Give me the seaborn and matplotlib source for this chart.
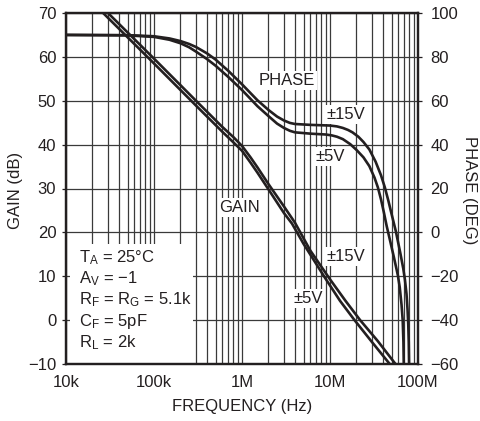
import numpy as np
import pandas as pd
import matplotlib
matplotlib.use('Agg')
import matplotlib.pyplot as plt
import matplotlib.ticker as mticker
from matplotlib.patches import Rectangle
import seaborn as sns

# gain curves (Hz, dB)
freq_gain_15 = [10e3, 30e3, 100e3, 300e3, 600e3, 800e3, 1e6, 1.25e6, 1.5e6, 2e6, 3e6, 4e6, 6e6,
                10e6, 15e6, 22e6, 35e6, 58e6]
gain_15 = [79.5, 70.0, 59.6, 50.0, 44.0, 41.7, 39.7, 37.1, 34.8, 31.0, 25.9, 22.2, 15.8,
           9.3, 4.4, 0.0, -4.8, -10.5]
freq_gain_5 = [10e3, 30e3, 100e3, 300e3, 600e3, 800e3, 1e6, 1.25e6, 1.5e6, 2e6, 3e6, 3.7e6, 5e6,
               8.8e6, 13e6, 19e6, 30e6, 50e6]
gain_5 = [78.4, 68.9, 58.5, 48.9, 42.9, 40.5, 38.6, 35.9, 33.6, 29.8, 24.4, 22.0, 17.4,
          9.6, 4.4, 0.0, -5.0, -10.5]

# phase curves (Hz, deg)
freq_ph_15 = [10e3, 50e3, 100e3, 150e3, 200e3, 250e3, 300e3, 400e3, 500e3, 700e3, 1e6, 1.5e6,
              2e6, 2.5e6, 3e6, 3.5e6, 4e6, 6e6, 10e6, 12e6, 14e6, 16e6, 18e6, 21e6, 24e6, 28e6,
              33e6, 38e6, 42e6, 46e6, 50e6, 56e6, 63e6, 68e6, 71e6, 74e6, 76e6, 77.5e6, 78.5e6, 79.3e6]
phase_15 = [90, 89.9, 89.4, 88.4, 87.2, 85.9, 84.5, 81.6, 78.8, 73.6, 67.5, 60.2,
            55.8, 52.8, 51.0, 49.9, 49.4, 49.0, 48.7, 48.3, 47.6, 46.7, 45.6, 43.6, 41.2, 37.8,
            32.2, 26, 20.5, 14.5, 8.5, 0.5, -9.5, -16.5, -21.5, -28, -35, -42, -50, -62]
freq_ph_5 = [10e3, 50e3, 100e3, 150e3, 200e3, 250e3, 300e3, 400e3, 500e3, 700e3, 1e6, 1.5e6,
             2e6, 2.5e6, 3e6, 3.5e6, 4e6, 6e6, 9e6, 10.5e6, 12e6, 14e6, 17e6, 20e6, 24e6, 28e6,
             32e6, 35e6, 38e6, 41e6, 44e6, 48e6, 53e6, 59e6, 62e6, 65e6, 67e6, 68.3e6, 69e6]
phase_5 = [90, 89.8, 89.1, 87.8, 86.2, 84.4, 82.4, 79.0, 76.0, 70.8, 64.9, 57.5,
           53.0, 49.6, 47.6, 46.3, 45.6, 45.0, 44.6, 44.2, 43.6, 42.5, 40.2, 37.6, 34.2, 30.2,
           25, 20.5, 15, 9, 3, -3.5, -11, -19.5, -25, -33, -40, -50, -62]

x_ticks = [1e4, 1e5, 1e6, 1e7, 1e8]
x_labels = ['10k', '100k', '1M', '10M', '100M']
gain_ticks = list(range(-10, 71, 10))
phase_ticks = list(range(-60, 101, 20))

gain_df = pd.DataFrame({
    'freq': freq_gain_15 + freq_gain_5,
    'gain': gain_15 + gain_5,
    'supply': ['±15V'] * len(gain_15) + ['±5V'] * len(gain_5),
})
phase_df = pd.DataFrame({
    'freq': freq_ph_15 + freq_ph_5,
    'phase': phase_15 + phase_5,
    'supply': ['±15V'] * len(phase_15) + ['±5V'] * len(phase_5),
})

sns.set_style('white')
plt.rcParams['font.family'] = ['Liberation Sans Narrow', 'Liberation Sans', 'DejaVu Sans']
plt.rcParams['mathtext.default'] = 'regular'
plt.rcParams['axes.unicode_minus'] = True

ink = '#231f20'
fig = plt.figure(figsize=(4.8, 4.21), dpi=100)
ax = fig.add_axes([66 / 480, 57 / 421, 352 / 480, 351 / 421])
ax2 = ax.twinx()

pal = {'±15V': ink, '±5V': ink}
sns.lineplot(data=gain_df, x='freq', y='gain', hue='supply', palette=pal,
             lw=1.9, legend=False, ax=ax, sort=False)
sns.lineplot(data=phase_df, x='freq', y='phase', hue='supply', palette=pal,
             lw=1.9, legend=False, ax=ax2, sort=False)

ax.set_xscale('log')
ax.set_xlim(1e4, 1e8)
ax.set_ylim(-10, 70)
ax2.set_ylim(-60, 100)

ax.set_xticks(x_ticks)
ax.set_xticklabels(x_labels)
ax.xaxis.set_minor_locator(mticker.LogLocator(base=10, subs=np.arange(2, 10)))
ax.xaxis.set_minor_formatter(mticker.NullFormatter())
ax.set_yticks(gain_ticks)
ax.set_yticklabels([str(v).replace('-', '\u2212') for v in gain_ticks])
ax2.set_yticks(phase_ticks)
ax2.set_yticklabels([str(v).replace('-', '\u2212') for v in phase_ticks])

ax.set_axisbelow(True)
ax.grid(True, which='both', axis='x', color='#3a3a3a', lw=0.9)
ax.grid(True, which='major', axis='y', color='#3a3a3a', lw=0.9)

ax.tick_params(axis='x', which='both', length=0, pad=8, labelsize=12, colors=ink)
ax.tick_params(axis='y', length=3, width=0.9, pad=4, labelsize=12, colors=ink)
ax2.tick_params(axis='y', length=3, width=0.9, pad=6, labelsize=12, colors=ink)
for a in (ax, ax2):
    for s in a.spines.values():
        s.set_color(ink)
        s.set_linewidth(1.6)

ax.set_xlabel('')
ax.set_ylabel('')
ax2.set_ylabel('')
fig.text(16 / 480, 1 - 190 / 421, 'GAIN (dB)', rotation=90, ha='center', va='center', fontsize=12, color=ink)
fig.text(470 / 480, 1 - 190 / 421, 'PHASE (DEG)', rotation=270, ha='center', va='center', fontsize=12, color=ink)
fig.text(242 / 480, 1 - 407 / 421, 'FREQUENCY (Hz)', ha='center', va='center', fontsize=12, color=ink)

# white panel behind the conditions block
ax.add_patch(Rectangle((0.011, 0.004), 0.35, 0.338, transform=ax.transAxes,
                       facecolor='white', edgecolor='none', zorder=1))

box = dict(facecolor='white', edgecolor='none', pad=1.5)
labels = [
    (0.628, 0.808, 'PHASE'),
    (0.795, 0.712, '±15V'),
    (0.750, 0.592, '±5V'),
    (0.494, 0.447, 'GAIN'),
    (0.795, 0.305, '±15V'),
    (0.688, 0.188, '±5V'),
]
for fx, fy, t in labels:
    ax2.text(fx, fy, t, transform=ax2.transAxes, ha='center', va='center',
             fontsize=12, color=ink, bbox=box, zorder=5)

conditions = [
    r'T$_{A}$ = 25°C',
    r'A$_{V}$ = −1',
    r'R$_{F}$ = R$_{G}$ = 5.1k',
    r'C$_{F}$ = 5pF',
    r'R$_{L}$ = 2k',
]
cond_y = [0.302, 0.242, 0.182, 0.120, 0.060]
for t, fy in zip(conditions, cond_y):
    ax2.text(0.037, fy, t, transform=ax2.transAxes, ha='left', va='center',
             fontsize=12, color=ink, zorder=5)

fig.savefig('out.png', dpi=100)
